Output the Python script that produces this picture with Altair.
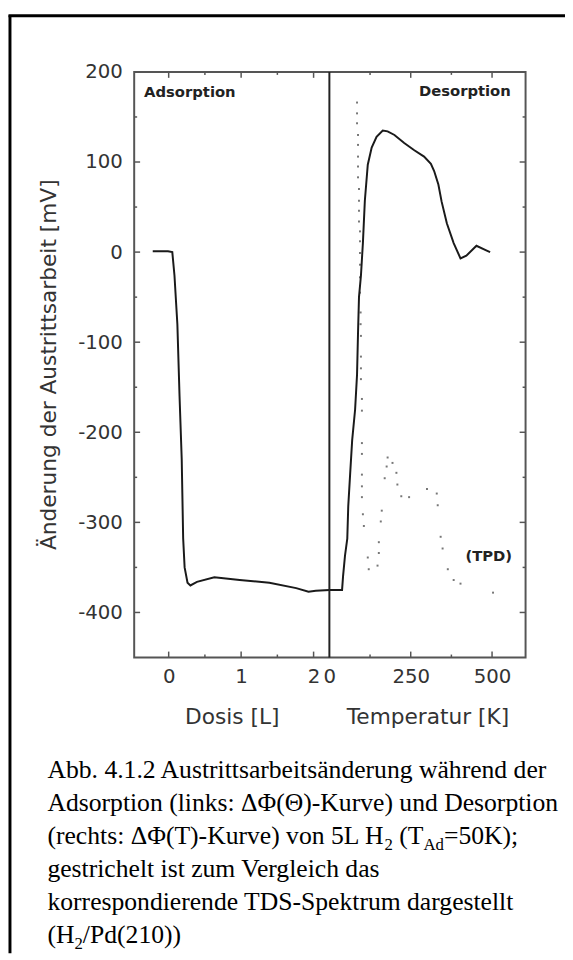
import altair as alt
import pandas as pd

# ---------------- data ----------------
# Adsorption: work function change vs. dose [L]
ads_dose = [-0.22, -0.01, 0.05, 0.08, 0.12, 0.15, 0.18, 0.20, 0.22, 0.26, 0.30,
            0.39, 0.63, 0.98, 1.39, 1.76, 1.93, 2.03, 2.22]
ads_mv = [1, 1, 0, -26, -80, -160, -230, -318, -350, -367, -370,
          -366, -361, -364, -367, -373, -377, -376, -375]

# Desorption: work function change vs. temperature [K]
des_T = [0, 39, 42, 48, 55, 58, 64, 70, 79, 85, 88, 91, 97, 103, 109, 118, 130,
         145, 164, 179, 200, 230, 261, 291, 312, 322, 335, 345, 361, 382, 403,
         421, 452, 482, 494]
des_mv = [-375, -375, -360, -337, -318, -282, -245, -209, -175, -136, -90, -50,
          -26, 10, 57, 97, 116, 128, 135, 134, 130, 121, 113, 106, 98, 90, 75,
          56, 32, 10, -7, -4, 7, 2, 0]

# TPD spectrum (dotted)
tpd_T = [85, 85, 85, 88, 88, 88, 88, 88, 91, 91, 91, 91, 94, 94, 94, 94, 94, 94,
         96, 96, 97, 97, 97, 97, 100, 100, 100, 100, 100, 100, 100, 103, 106,
         118, 121, 148, 152, 152, 158, 161, 170, 176, 179, 194, 206, 209, 221,
         245, 300, 330, 333, 342, 348, 364, 382, 403, 503]
tpd_mv = [166, 154, 143, 130, 119, 106, 95, 83, 70, 57, 46, 34, 23, 12, -1, -14,
          -28, -45, -67, -80, -93, -116, -129, -141, -163, -176, -212, -224,
          -247, -260, -272, -291, -304, -339, -352, -348, -334, -322, -299, -287,
          -251, -238, -228, -234, -245, -258, -271, -272, -263, -268, -281, -316,
          -329, -352, -364, -368, -378]

y_major = [-400, -300, -200, -100, 0, 100, 200]
y_minor = [-350, -250, -150, -50, 50, 150]
dose_major = [0, 1, 2]
dose_minor = [0.5, 1.5]
T_major = [250, 500]
T_minor = [125, 375]
T_labels = [0, 250, 500]
divider_T = [0]

caption_lines = [
    ["Abb. 4.1.2 Austrittsarbeitsänderung während der"],
    ["Adsorption (links: ΔΦ(Θ)-Kurve) und Desorption"],
    ["(rechts: ΔΦ(T)-Kurve) von 5L H", "_2", " (T", "_Ad", "=50K);"],
    ["gestrichelt ist zum Vergleich das"],
    ["korrespondierende TDS-Spektrum dargestellt"],
    ["(H", "_2", "/Pd(210))"],
]

# ---------------- layout ----------------
W, H = 397, 594
WL = 198
AX_FONT = "DejaVu Sans"
AX_COL = "#333333"
CAP_FONT = "Liberation Serif"
CAP_SIZE = 26
SUB_SIZE = 17

y_scale = alt.Scale(domain=[-450, 200], nice=False, zero=False)
dose_scale = alt.Scale(domain=[-0.476, 2.218], range=[0, WL], nice=False, zero=False)
T_scale = alt.Scale(domain=[0, 603], range=[WL, W], nice=False, zero=False)

y_axis = alt.Axis(values=y_major, labelExpr="'' + datum.value", ticks=False,
                  domain=False, grid=False, title=None, labelFont=AX_FONT,
                  labelFontSize=20, labelColor=AX_COL, labelPadding=12)
Y = alt.Y("mv:Q", scale=y_scale, axis=y_axis)

dummy = pd.DataFrame({"a": [0]})


def xaxis(values, title):
    return alt.Axis(values=values, labelExpr="'' + datum.value", ticks=False,
                    domain=False, grid=False, orient="bottom", labelFlush=False,
                    labelOverlap=False, labelFont=AX_FONT, labelFontSize=20,
                    labelColor=AX_COL, labelPadding=9, title=title,
                    titleFont=AX_FONT, titleFontSize=22, titleFontWeight="normal",
                    titleColor=AX_COL, titlePadding=21)


ads_df = pd.DataFrame({"dose": ads_dose, "mv": ads_mv, "i": range(len(ads_dose))})
des_df = pd.DataFrame({"T": des_T, "mv": des_mv, "i": range(len(des_T))})
tpd_df = pd.DataFrame({"T": tpd_T, "mv": tpd_mv})

ads = alt.Chart(ads_df).mark_line(color="#1a1a1a", strokeWidth=2).encode(
    x=alt.X("dose:Q", scale=dose_scale, axis=xaxis(dose_major, "Dosis [L]")),
    y=Y, order="i:Q")

des = alt.Chart(des_df).mark_line(color="#1a1a1a", strokeWidth=2).encode(
    x=alt.X("T:Q", scale=T_scale, axis=xaxis(T_labels, "Temperatur [K]")),
    y=Y, order="i:Q")

tpd = alt.Chart(tpd_df).mark_square(color="#777777", size=4, opacity=1).encode(
    x=alt.X("T:Q", scale=T_scale, axis=None), y=Y)

divider = alt.Chart(pd.DataFrame({"T": divider_T})).mark_rule(
    color="#222222", strokeWidth=2).encode(
    x=alt.X("T:Q", scale=T_scale, axis=None), y=alt.value(0), y2=alt.value(H))

TICK_COL = "#555555"


def yticks(vals, x0, x1):
    return alt.Chart(pd.DataFrame({"mv": vals})).mark_rule(
        color=TICK_COL, strokeWidth=1.5).encode(
        y=Y, x=alt.value(x0), x2=alt.value(x1))


def xticks(vals, field, scale, y0, y1):
    return alt.Chart(pd.DataFrame({field: vals})).mark_rule(
        color=TICK_COL, strokeWidth=1.5).encode(
        x=alt.X(f"{field}:Q", scale=scale, axis=None), y=alt.value(y0), y2=alt.value(y1))


ticks = [
    yticks(y_major, 0, 6), yticks(y_minor, 0, 3),
    yticks(y_major, W - 6, W), yticks(y_minor, W - 3, W),
    xticks(dose_major, "dose", dose_scale, H - 6, H),
    xticks(dose_minor, "dose", dose_scale, H - 3, H),
    xticks(dose_major, "dose", dose_scale, 0, 6),
    xticks(dose_minor, "dose", dose_scale, 0, 3),
    xticks(T_major, "T", T_scale, H - 6, H),
    xticks(T_minor, "T", T_scale, H - 3, H),
    xticks(T_major, "T", T_scale, 0, 6),
    xticks(T_minor, "T", T_scale, 0, 3),
]


def txt(s, x, y, size, font, color="#000000", align="left",
        baseline="alphabetic", weight="normal", angle=0):
    return alt.Chart(dummy).mark_text(
        text=s, align=align, baseline=baseline, font=font, fontSize=size,
        color=color, fontWeight=weight, angle=angle).encode(
        x=alt.value(x), y=alt.value(y))


texts = [
    txt("Änderung der Austrittsarbeit [mV]", -86, 297, 22, AX_FONT, AX_COL,
        align="center", baseline="middle", angle=270),
    txt("Adsorption", 10, 20, 15, AX_FONT, "#222222", baseline="middle", weight="bold"),
    txt("Desorption", 382, 19, 15, AX_FONT, "#222222", align="right",
        baseline="middle", weight="bold"),
    txt("(TPD)", 336, 491, 15, AX_FONT, "#222222", baseline="middle", weight="bold"),
]

# Times New Roman metrics (Liberation Serif is metric compatible)
TW = {' ': 250, '(': 333, ')': 333, ':': 278, '-': 333, '=': 564, ';': 278,
      '/': 278, '.': 250, 'A': 722, 'D': 722, 'H': 722, 'K': 722, 'L': 611,
      'P': 556, 'S': 556, 'T': 611, 'V': 722, 'Δ': 612, 'Φ': 763, 'Θ': 722,
      'a': 444, 'b': 500, 'c': 444, 'd': 500, 'e': 444, 'f': 333, 'g': 500,
      'h': 500, 'i': 278, 'k': 500, 'l': 278, 'm': 778, 'n': 500, 'o': 500,
      'p': 500, 'r': 333, 's': 389, 't': 278, 'u': 500, 'v': 500, 'w': 722,
      'z': 444, 'ä': 444}


def tw(s, size):
    return sum(TW.get(c, 500) for c in s) * size / 1000.0


CAP_X = -88
CAP_Y0 = 716
CAP_DY = 33.5
for k, segs in enumerate(caption_lines):
    xx = CAP_X
    yy = CAP_Y0 + k * CAP_DY
    for s in segs:
        sub = s.startswith("_")
        if sub:
            s = s[1:]
        size = SUB_SIZE if sub else CAP_SIZE
        lead = len(s) - len(s.lstrip(" "))
        xx += tw(" " * lead, size)
        s = s.lstrip(" ")
        texts.append(txt(s, xx, yy + (6 if sub else 0), size, CAP_FONT))
        xx += tw(s, size)

# outer border (only top and left edge visible)
border = [
    alt.Chart(dummy).mark_rule(color="black", strokeWidth=3).encode(
        x=alt.value(-126), y=alt.value(-57.5), y2=alt.value(H + 300)),
    alt.Chart(dummy).mark_rule(color="black", strokeWidth=3).encode(
        x=alt.value(-127.5), x2=alt.value(437), y=alt.value(-57)),
]

chart = alt.layer(
    *border, *ticks, tpd, ads, des, divider, *texts
).resolve_scale(x="independent").properties(
    width=W, height=H,
    autosize=alt.AutoSizeParams(type="none"),
    padding={"left": 128, "top": 58, "right": 40, "bottom": 300},
).configure_view(stroke="#555555", strokeWidth=2)

chart.save("out.html", embed_options={"renderer": "svg", "actions": False})
